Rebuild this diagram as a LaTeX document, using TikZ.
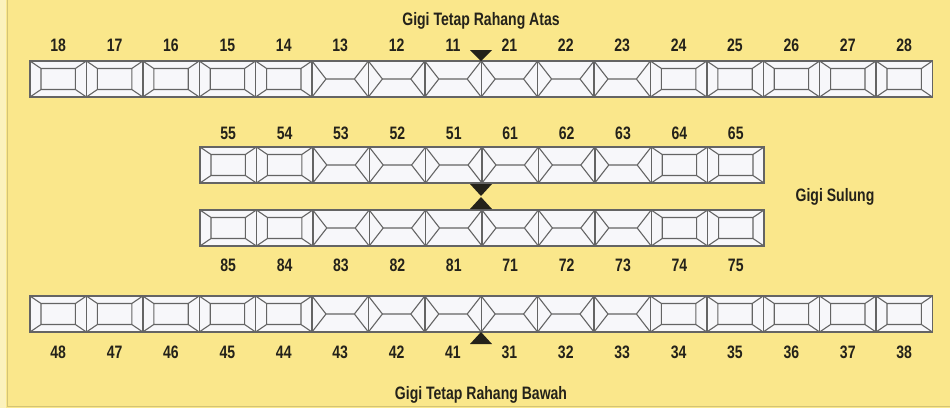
\documentclass[tikz,border=0pt]{standalone}
\usepackage{fontspec}
\setmainfont{Liberation Sans}[FakeStretch=0.78]

\definecolor{paper}{HTML}{FAE78B}
\definecolor{paperedge}{HTML}{FCF2BC}
\definecolor{toothfill}{HTML}{F7F7FA}
\definecolor{toothline}{HTML}{646464}
\definecolor{ink}{HTML}{24221A}

% one tooth cell, measured in pixels of the chart
\newcommand\toothw{56.4}
\newcommand\toothh{36}

\tikzset{
  toothbody/.style={fill = toothfill, draw = toothline, line width = 0.7pt},
  toothpen/.style={draw = toothline, line width = 0.55pt, line join = round},
  % back teeth: chewing surface as inner box
  molar/.pic={
    \path[toothbody] (0,0) rectangle (\toothw,\toothh);
    \draw[toothpen] (11,7.5) rectangle (\toothw-11,\toothh-7.5)
      (0,0) -- (11,7.5) (\toothw,0) -- (\toothw-11,7.5)
      (0,\toothh) -- (11,\toothh-7.5) (\toothw,\toothh) -- (\toothw-11,\toothh-7.5);
  },
  % front teeth: cutting edge as a line
  incisor/.pic={
    \path[toothbody] (0,0) rectangle (\toothw,\toothh);
    \draw[toothpen] (0,0) -- (14,\toothh/2) -- (0,\toothh)
      (\toothw,0) -- (\toothw-14,\toothh/2) -- (\toothw,\toothh)
      (14,\toothh/2) -- (\toothw-14,\toothh/2);
  },
}

\begin{document}
\begin{tikzpicture}[
    x = 0.5pt, y = -0.5pt,
    font = \fontsize{9}{10}\selectfont\bfseries,
    num/.style={text = ink, inner sep = 0pt},
    title/.style={text = ink, inner sep = 0pt},
    midmark/.style={fill = ink},
  ]
  \useasboundingbox (0,0) rectangle (950,408);

  % background card
  \fill[paper] (0,0) rectangle (950,408);
  \fill[paperedge] (0,0) rectangle (6,408);
  \draw[paper!85!black, line width = 0.4pt] (7,0) -- (7,406) -- (950,406);

  % four rows of teeth with their numbers
  \foreach \rowtop/\rowx/\numy/\teeth in {
      61/30/45/{18,17,16,15,14,13,12,11,21,22,23,24,25,26,27,28},
      147/200/133/{55,54,53,52,51,61,62,63,64,65},
      210/200/265/{85,84,83,82,81,71,72,73,74,75},
      296/30/352/{48,47,46,45,44,43,42,41,31,32,33,34,35,36,37,38}} {
    \foreach \t [count=\k from 0] in \teeth {
      \pgfmathsetmacro\tx{\rowx+\k*\toothw}
      \pgfmathtruncatemacro\u{mod(\t,10)}
      \ifnum\u>3
        \pic (t\t) at (\tx,\rowtop) {molar};
      \else
        \pic (t\t) at (\tx,\rowtop) {incisor};
      \fi
      \node[num] (n\t) at (\tx+\toothw/2,\numy) {\t};
    }
  }

  % midline markers
  \coordinate (mid) at (481,0);
  \fill[midmark] ([xshift=-5.5pt]mid |- 0,50) -- ([xshift=5.5pt]mid |- 0,50) -- (mid |- 0,61) -- cycle;
  \fill[midmark] ([xshift=-5.5pt]mid |- 0,184) -- ([xshift=5.5pt]mid |- 0,184) -- (mid |- 0,196) -- cycle;
  \fill[midmark] ([xshift=-5.5pt]mid |- 0,209) -- ([xshift=5.5pt]mid |- 0,209) -- (mid |- 0,197) -- cycle;
  \fill[midmark] ([xshift=-5.5pt]mid |- 0,344) -- ([xshift=5.5pt]mid |- 0,344) -- (mid |- 0,332) -- cycle;

  % headings
  \node[title] (upper) at (481,21) {Gigi Tetap Rahang Atas};
  \node[title] (primary) at (835,197) {Gigi Sulung};
  \node[title] (lower) at (481,395) {Gigi Tetap Rahang Bawah};
\end{tikzpicture}
\end{document}
